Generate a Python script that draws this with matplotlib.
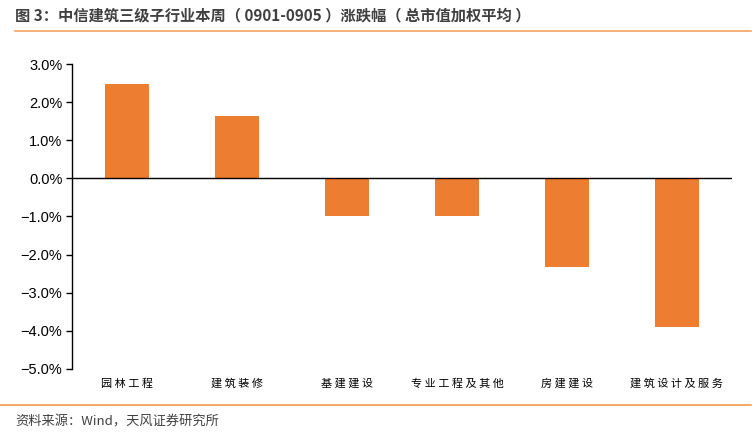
import numpy as np
import matplotlib.pyplot as plt
from matplotlib.lines import Line2D
from matplotlib.ticker import FuncFormatter

plt.rcParams['font.family'] = ['Noto Sans CJK SC', 'DejaVu Sans']

categories = ['园林工程', '建筑装修', '基建建设', '专业工程及其他', '房建建设', '建筑设计及服务']
changes = [2.47, 1.63, -0.98, -0.98, -2.32, -3.89]
yticks = [3, 2, 1, 0, -1, -2, -3, -4, -5]

title = '图 3：中信建筑三级子行业本周（ 0901-0905 ）涨跌幅（ 总市值加权平均 ）'
source = '资料来源：Wind，天风证券研究所'

fig = plt.figure(figsize=(7.55, 4.36), dpi=100)
ax = fig.add_axes([0.0954, 0.154, 0.874, 0.699])

x = np.arange(len(categories))
ax.bar(x, changes, width=0.4, color='#ED7D31', zorder=2)
ax.axhline(0, color='black', linewidth=1, zorder=3)

ax.set_xlim(-0.5, len(categories) - 0.5)
ax.set_ylim(-5, 3)
ax.set_yticks(yticks)
ax.yaxis.set_major_formatter(FuncFormatter(lambda v, p: f'{v:.1f}%'.replace('-', '\u2212')))
for lab in ax.get_yticklabels():
    lab.set_family(['Liberation Sans', 'DejaVu Sans'])
    lab.set_fontsize(10.5)
ax.tick_params(axis='y', direction='out', length=4, width=1, pad=3)

ax.set_xticks(x)
ax.set_xticklabels([' '.join(c) for c in categories], fontsize=8, family=['Noto Sans CJK SC'])
ax.tick_params(axis='x', length=0, pad=7)

for s in ['top', 'right', 'bottom']:
    ax.spines[s].set_visible(False)
ax.spines['left'].set_linewidth(1)

fig.text(0.02, 0.965, title, fontsize=11, fontweight='bold', color='#404040', va='center')
fig.add_artist(Line2D([0.02, 0.995], [0.929, 0.929], color='#F4A460', linewidth=1.2))
fig.add_artist(Line2D([0.0, 0.995], [0.071, 0.071], color='#F59A4A', linewidth=1.2))
fig.text(0.02, 0.032, source, fontsize=9.5, color='#404040', va='center')

fig.savefig('out.png', dpi=100)
